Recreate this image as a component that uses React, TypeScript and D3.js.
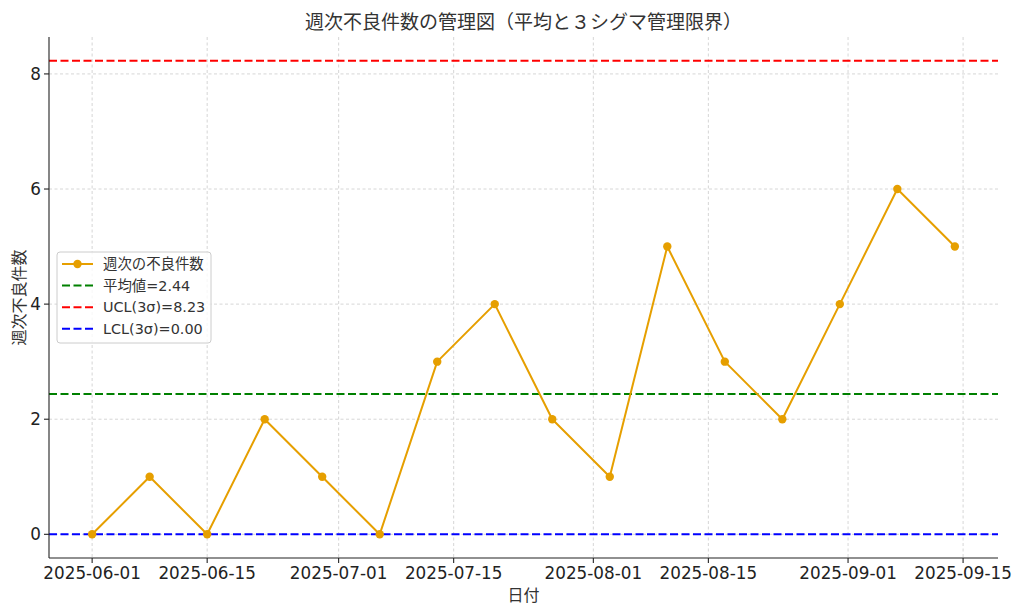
import React from "react";
import * as d3 from "d3";

const dates: string[] = [
  "2025-06-01", "2025-06-08", "2025-06-15", "2025-06-22", "2025-06-29", "2025-07-06",
  "2025-07-13", "2025-07-20", "2025-07-27", "2025-08-03", "2025-08-10", "2025-08-17",
  "2025-08-24", "2025-08-31", "2025-09-07", "2025-09-14",
];
const defects: number[] = [0, 1, 0, 2, 1, 0, 3, 4, 2, 1, 5, 3, 2, 4, 6, 5];
const meanValue = 2.44;
const uclValue = 8.23;
const lclValue = 0.0;
const xTickLabels: string[] = [
  "2025-06-01", "2025-06-15", "2025-07-01", "2025-07-15",
  "2025-08-01", "2025-08-15", "2025-09-01", "2025-09-15",
];
const yTickValues: number[] = [0, 2, 4, 6, 8];

const titleText = "週次不良件数の管理図（平均と３シグマ管理限界）";
const xLabelText = "日付";
const yLabelText = "週次不良件数";
const seriesLabel = "週次の不良件数";
const meanLabel = `平均値=${meanValue.toFixed(2)}`;
const uclLabel = `UCL(3σ)=${uclValue.toFixed(2)}`;
const lclLabel = `LCL(3σ)=${lclValue.toFixed(2)}`;

const W = 1024;
const H = 614;
const M = { left: 49, right: 998, top: 37, bottom: 558 };
const FONT = '"DejaVu Sans", "Noto Sans CJK JP", sans-serif';
const ORANGE = "#e69f00";

const parse = (s: string) => new Date(s + "T00:00:00Z");

export default function App() {
  const pts = dates.map((d, i) => ({ x: parse(d), y: defects[i] }));
  const t0 = pts[0].x.getTime();
  const t1 = pts[pts.length - 1].x.getTime();
  const padT = (t1 - t0) * 0.05;
  const x = d3.scaleUtc().domain([new Date(t0 - padT), new Date(t1 + padT)]).range([M.left, M.right]);
  const yMin = Math.min(lclValue, d3.min(defects)!);
  const yMax = Math.max(uclValue, d3.max(defects)!);
  const padY = (yMax - yMin) * 0.05;
  const y = d3.scaleLinear().domain([yMin - padY, yMax + padY]).range([M.bottom, M.top]);

  const line = d3.line<{ x: Date; y: number }>().x((d) => x(d.x)).y((d) => y(d.y));
  const xTicks = xTickLabels.map(parse);

  const hlines = [
    { v: meanValue, color: "#008000" },
    { v: uclValue, color: "#ff0000" },
    { v: lclValue, color: "#0000ff" },
  ];

  const legendItems = [
    { label: seriesLabel, color: ORANGE, marker: true, dash: undefined as string | undefined },
    { label: meanLabel, color: "#008000", marker: false, dash: "8,3.5" },
    { label: uclLabel, color: "#ff0000", marker: false, dash: "8,3.5" },
    { label: lclLabel, color: "#0000ff", marker: false, dash: "8,3.5" },
  ];
  const lg = { x: 57, y: 252, w: 154, h: 91, row: 21.6 };

  return (
    <svg width={W} height={H} style={{ display: "block", position: "absolute", left: 0, top: 0 }} fontFamily={FONT}>
      <rect width={W} height={H} fill="#ffffff" />
      {/* grid */}
      <g stroke="#cccccc" strokeWidth={0.8} strokeDasharray="3,2.5">
        {xTicks.map((t, i) => (
          <line key={"gx" + i} x1={x(t)} x2={x(t)} y1={M.top} y2={M.bottom} />
        ))}
        {yTickValues.map((v) => (
          <line key={"gy" + v} x1={M.left} x2={M.right} y1={y(v)} y2={y(v)} />
        ))}
      </g>
      {/* control lines */}
      {hlines.map((h, i) => (
        <line key={"h" + i} x1={M.left} x2={M.right} y1={y(h.v)} y2={y(h.v)} stroke={h.color} strokeWidth={2} strokeDasharray="8,3.5" />
      ))}
      {/* series */}
      <path d={line(pts) || ""} fill="none" stroke={ORANGE} strokeWidth={2} strokeLinejoin="round" />
      {pts.map((p, i) => (
        <circle key={"p" + i} cx={x(p.x)} cy={y(p.y)} r={4.2} fill={ORANGE} />
      ))}
      {/* axes */}
      <line x1={M.left} x2={M.left} y1={M.top} y2={M.bottom} stroke="#222" strokeWidth={1.1} />
      <line x1={M.left} x2={M.right} y1={M.bottom} y2={M.bottom} stroke="#222" strokeWidth={1.1} />
      {xTicks.map((t, i) => (
        <g key={"xt" + i}>
          <line x1={x(t)} x2={x(t)} y1={M.bottom} y2={M.bottom + 5} stroke="#222" strokeWidth={1.1} />
          <text x={x(t)} y={M.bottom + 21} textAnchor="middle" fontSize={16.8} fill="#222">
            {xTickLabels[i]}
          </text>
        </g>
      ))}
      {yTickValues.map((v) => (
        <g key={"yt" + v}>
          <line x1={M.left - 5} x2={M.left} y1={y(v)} y2={y(v)} stroke="#222" strokeWidth={1.1} />
          <text x={M.left - 8} y={y(v)} dy="0.36em" textAnchor="end" fontSize={16.8} fill="#222">
            {v}
          </text>
        </g>
      ))}
      {/* labels */}
      <text x={(M.left + M.right) / 2} y={29} textAnchor="middle" fontSize={19} fill="#333">
        {titleText}
      </text>
      <text x={(M.left + M.right) / 2} y={601} textAnchor="middle" fontSize={16} fill="#333">
        {xLabelText}
      </text>
      <text
        transform={`translate(25,${(M.top + M.bottom) / 2}) rotate(-90)`}
        textAnchor="middle"
        fontSize={16}
        fill="#333"
      >
        {yLabelText}
      </text>
      {/* legend */}
      <g>
        <rect x={lg.x} y={lg.y} width={lg.w} height={lg.h} rx={3} fill="#ffffff" fillOpacity={0.8} stroke="#cccccc" strokeWidth={1} />
        {legendItems.map((it, i) => {
          const cy = lg.y + 12 + i * lg.row;
          return (
            <g key={"lg" + i}>
              <line x1={lg.x + 5} x2={lg.x + 36} y1={cy} y2={cy} stroke={it.color} strokeWidth={2} strokeDasharray={it.dash} />
              {it.marker && <circle cx={lg.x + 20.5} cy={cy} r={4.2} fill={it.color} />}
              <text x={lg.x + 46} y={cy} dy="0.36em" fontSize={14.4} fill="#333">
                {it.label}
              </text>
            </g>
          );
        })}
      </g>
    </svg>
  );
}
